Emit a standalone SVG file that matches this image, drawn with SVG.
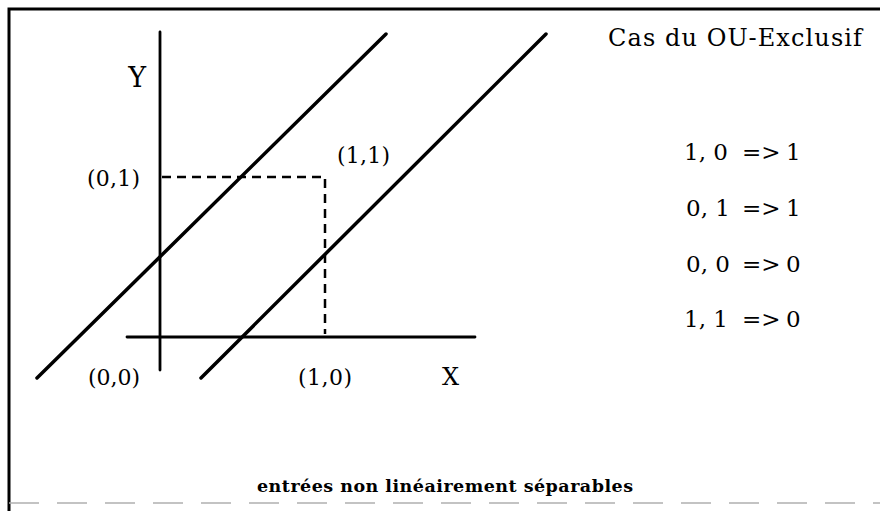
<svg xmlns="http://www.w3.org/2000/svg" width="880" height="511" viewBox="0 0 880 511">
<style>
.t{font-family:"DejaVu Serif","Liberation Serif",serif;fill:#000}
.ln{stroke:#000;fill:none;stroke-linecap:round}
.dash{stroke:#000;stroke-width:2.5;stroke-dasharray:9 6;fill:none}
</style>
<rect width="880" height="511" fill="#fff"/>
<g id="frame">
<path d="M9 511 V9 H880" class="ln" stroke-width="3"/>
<line x1="9" y1="503" x2="880" y2="503" stroke="#b0b0b0" stroke-width="1.5" stroke-dasharray="30 18"/>
</g>
<g id="axes">
<line x1="160" y1="32" x2="160" y2="370" class="ln" stroke-width="2.8"/>
<line x1="127" y1="337" x2="475" y2="337" class="ln" stroke-width="2.8"/>
</g>
<g id="connectors">
<line x1="37" y1="378" x2="386" y2="34" class="ln" stroke-width="3.5"/>
<line x1="201" y1="378" x2="546" y2="34" class="ln" stroke-width="3.5"/>
<path d="M162 177 H325 V334" class="dash"/>
</g>
<g id="labels">
<text class="t" x="146" y="87" font-size="27" text-anchor="end">Y</text>
<text class="t" x="140" y="186" font-size="22" text-anchor="end" textLength="53">(0,1)</text>
<text class="t" x="337" y="163" font-size="22" textLength="53">(1,1)</text>
<text class="t" x="140" y="385" font-size="22" text-anchor="end" textLength="52">(0,0)</text>
<text class="t" x="298" y="385" font-size="22" textLength="54">(1,0)</text>
<text class="t" x="442" y="385" font-size="24">X</text>
</g>
<g id="title">
<text class="t" x="608" y="46" font-size="24" textLength="254">Cas du OU-Exclusif</text>
</g>
<g id="table" class="t" font-size="23">
<text class="t" y="160"><tspan x="684">1, 0</tspan><tspan x="742">=&gt;</tspan><tspan x="786">1</tspan></text>
<text class="t" y="216"><tspan x="686">0, 1</tspan><tspan x="742">=&gt;</tspan><tspan x="786">1</tspan></text>
<text class="t" y="272"><tspan x="686">0, 0</tspan><tspan x="742">=&gt;</tspan><tspan x="786">0</tspan></text>
<text class="t" y="327"><tspan x="684">1, 1</tspan><tspan x="742">=&gt;</tspan><tspan x="786">0</tspan></text>
</g>
<g id="caption">
<text class="t" x="445" y="492" font-size="17.5" font-weight="bold" text-anchor="middle" textLength="376">entrées non linéairement séparables</text>
</g>
</svg>
